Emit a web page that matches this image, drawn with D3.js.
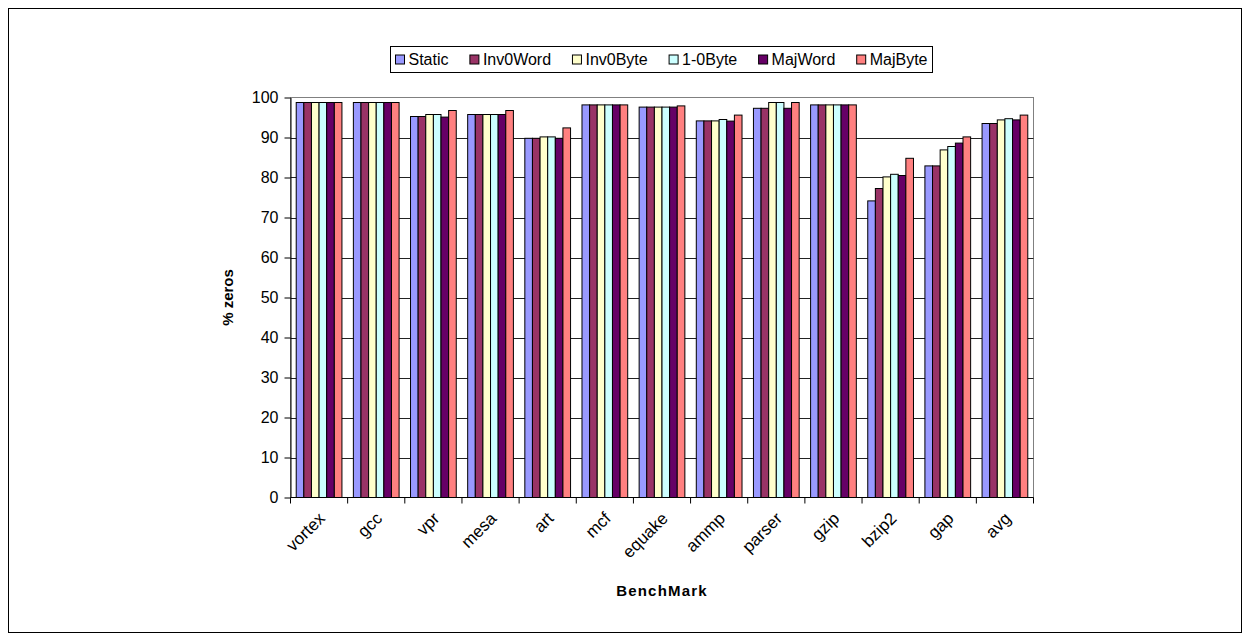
<!DOCTYPE html>
<html>
<head>
<meta charset="utf-8">
<script src="https://cdn.jsdelivr.net/npm/d3@7"></script>
<style>
  html, body { margin: 0; padding: 0; background: #fff; }
  svg { display: block; }
  svg text { font-family: "Liberation Sans", Arial, sans-serif; fill: #000; }
</style>
</head>
<body>
<svg id="chart" width="1250" height="641"></svg>
<script>
// Benchmarks along the x axis
const benchmarks = ["vortex", "gcc", "vpr", "mesa", "art", "mcf", "equake", "ammp", "parser", "gzip", "bzip2", "gap", "avg"];

// Encoding schemes (legend order)
const schemes = ["Static", "Inv0Word", "Inv0Byte", "1-0Byte", "MajWord", "MajByte"];
const schemeColors = ["#9999FF", "#993366", "#FFFFCC", "#CCFFFF", "#660066", "#FF8080"];

// Percentage of zeros, one array per scheme, in benchmark order
const staticVals   = [98.75, 98.75, 95.25, 95.75, 89.8, 98.15, 97.6, 94.15, 97.3, 98.15, 74.15, 82.9, 93.5];
const inv0WordVals = [98.75, 98.75, 95.25, 95.75, 89.8, 98.15, 97.6, 94.15, 97.3, 98.15, 77.25, 82.9, 93.5];
const inv0ByteVals = [98.75, 98.75, 95.75, 95.75, 90.15, 98.15, 97.6, 94.15, 98.75, 98.15, 80.15, 86.9, 94.4];
const oneZeroVals  = [98.75, 98.75, 95.75, 95.75, 90.15, 98.15, 97.6, 94.5, 98.75, 98.15, 80.8, 87.75, 94.7];
const majWordVals  = [98.75, 98.75, 95.1, 95.75, 89.8, 98.15, 97.6, 94.1, 97.3, 98.15, 80.5, 88.6, 94.4];
const majByteVals  = [98.75, 98.75, 96.75, 96.75, 92.4, 98.15, 97.9, 95.6, 98.75, 98.15, 84.8, 90.15, 95.6];

const seriesValues = [staticVals, inv0WordVals, inv0ByteVals, oneZeroVals, majWordVals, majByteVals];

// Y axis ticks
const yTicks = [0, 10, 20, 30, 40, 50, 60, 70, 80, 90, 100];

const yTitle = "% zeros";
const xTitle = "BenchMark";

const svg = d3.select("#chart");

// outer frame
svg.append("rect")
  .attr("x", 8.5).attr("y", 8.5)
  .attr("width", 1233).attr("height", 624)
  .attr("fill", "#fff").attr("stroke", "#000").attr("stroke-width", 1);

const plot = { left: 290.5, top: 97.5, right: 1033.5, bottom: 497.5 };

// one band per benchmark, bars fill 80% of it
const x0 = d3.scaleBand()
  .domain(benchmarks)
  .range([plot.left, plot.right])
  .paddingInner(0).paddingOuter(0);
const step = x0.step();
const groupWidth = step * 0.8;
const x1 = d3.scaleBand()
  .domain(schemes)
  .range([0, groupWidth])
  .padding(0);

const y = d3.scaleLinear().domain([0, 100]).range([plot.bottom, plot.top]);

// plot area border
svg.append("rect")
  .attr("x", plot.left).attr("y", plot.top)
  .attr("width", plot.right - plot.left).attr("height", plot.bottom - plot.top)
  .attr("fill", "none").attr("stroke", "#808080").attr("stroke-width", 1);

// horizontal gridlines
svg.append("g")
  .selectAll("line")
  .data(yTicks.filter(t => t > 0 && t < 100))
  .join("line")
  .attr("x1", plot.left).attr("x2", plot.right)
  .attr("y1", d => Math.round(y(d)) + 0.5).attr("y2", d => Math.round(y(d)) + 0.5)
  .attr("stroke", "#222").attr("stroke-width", 1);

// bars
const groups = svg.append("g")
  .selectAll("g")
  .data(benchmarks)
  .join("g")
  .attr("transform", d => `translate(${x0(d) + (step - groupWidth) / 2},0)`);

groups.selectAll("rect")
  .data((d, i) => schemes.map((s, k) => ({ s, k, v: seriesValues[k][i] })))
  .join("rect")
  .attr("x", d => x1(d.s))
  .attr("y", d => y(d.v))
  .attr("width", x1.bandwidth())
  .attr("height", d => y(0) - y(d.v))
  .attr("fill", d => schemeColors[d.k])
  .attr("stroke", "#000").attr("stroke-width", 1);

// y axis
const yAxis = d3.axisLeft(y).tickValues(yTicks).tickSize(6).tickSizeOuter(0).tickPadding(6);
const yg = svg.append("g").attr("transform", `translate(${plot.left},0)`).call(yAxis);
yg.select(".domain").attr("stroke", "#000");
yg.selectAll(".tick line").attr("stroke", "#000");
yg.selectAll(".tick text").attr("font-size", 16);

// x axis: ticks at category boundaries
const boundaries = d3.range(benchmarks.length + 1).map(i => plot.left + i * step);
const xg = svg.append("g");
xg.append("line")
  .attr("x1", plot.left).attr("x2", plot.right)
  .attr("y1", plot.bottom).attr("y2", plot.bottom)
  .attr("stroke", "#000");
xg.selectAll("line.tk")
  .data(boundaries)
  .join("line").attr("class", "tk")
  .attr("x1", d => d).attr("x2", d => d)
  .attr("y1", plot.bottom).attr("y2", plot.bottom + 6)
  .attr("stroke", "#000");
xg.selectAll("text")
  .data(benchmarks)
  .join("text")
  .attr("transform", d => `translate(${x0(d) + step / 2 + 7},${plot.bottom + 22}) rotate(-45)`)
  .attr("text-anchor", "end")
  .attr("font-size", 17)
  .text(d => d);

// axis titles
svg.append("text")
  .attr("transform", `translate(233,${(plot.top + plot.bottom) / 2}) rotate(-90)`)
  .attr("text-anchor", "middle")
  .attr("font-size", 15).attr("font-weight", "bold")
  .text(yTitle);

svg.append("text")
  .attr("x", 662).attr("y", 596)
  .attr("text-anchor", "middle")
  .attr("font-size", 15).attr("font-weight", "bold")
  .attr("letter-spacing", 1.2)
  .text(xTitle);

// legend
const legend = { x: 390.5, y: 46.5, w: 542, h: 26 };
svg.append("rect")
  .attr("x", legend.x).attr("y", legend.y).attr("width", legend.w).attr("height", legend.h)
  .attr("fill", "#fff").attr("stroke", "#000");

const lg = svg.append("g");
const items = lg.selectAll("g").data(schemes).join("g");
items.append("rect")
  .attr("width", 9).attr("height", 9)
  .attr("fill", (d, i) => schemeColors[i])
  .attr("stroke", "#000");
items.append("text")
  .attr("x", 13).attr("y", 10)
  .attr("font-size", 16)
  .text(d => d);

// lay out legend items evenly across the box
const widths = [];
items.each(function () { widths.push(13 + this.querySelector("text").getComputedTextLength()); });
const totalW = d3.sum(widths);
const pad = 5;
const gap = (legend.w - 2 * pad - totalW) / (schemes.length - 1);
let cx = legend.x + pad;
items.attr("transform", (d, i) => {
  const t = `translate(${cx},${legend.y + 8.5})`;
  cx += widths[i] + gap;
  return t;
});
</script>
</body>
</html>
